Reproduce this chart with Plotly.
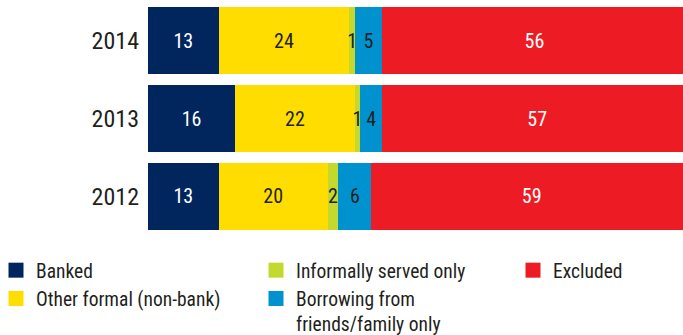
import plotly.graph_objects as go

years = ["2014", "2013", "2012"]
categories = ["Banked", "Other formal (non-bank)", "Informally served only",
              "Borrowing from<br>friends/family only", "Excluded"]
banked = [13, 16, 13]
other_formal = [24, 22, 20]
informal = [1, 1, 2]
friends_family = [5, 4, 6]
excluded = [56, 57, 59]

series = [banked, other_formal, informal, friends_family, excluded]
colors = ["#00265D", "#FFDD00", "#C4D92E", "#0092CF", "#ED1C24"]
text_colors = ["#FFFFFF", "#231F20", "#231F20", "#231F20", "#FFFFFF"]
legend_ids = ["legend", "legend", "legend2", "legend2", "legend3"]

FONT = "Liberation Sans Narrow, Arial Narrow, Roboto Condensed, sans-serif"

fig = go.Figure()
for name, vals, col, tcol in zip(categories, series, colors, text_colors):
    fig.add_trace(go.Bar(
        y=years, x=vals, name=name, orientation="h",
        marker=dict(color=col, line=dict(width=0)),
        text=vals, texttemplate="%{x}", textposition="inside",
        insidetextanchor="middle",
        textfont=dict(color=tcol, size=20, family=FONT),
        showlegend=False, hoverinfo="skip",
    ))

# legend entries as square markers, split across three columns
for name, col, lg in zip(categories, colors, legend_ids):
    fig.add_trace(go.Scatter(
        x=[None], y=[None], mode="markers", name=name,
        marker=dict(symbol="square", size=15, color=col),
        legend=lg, showlegend=True,
    ))

legend_style = dict(
    orientation="v", xanchor="left", yanchor="top", yref="container",
    traceorder="normal",
    font=dict(size=19.5, family=FONT, color="#231F20"),
    bgcolor="rgba(0,0,0,0)", borderwidth=0, tracegroupgap=0,
    valign="top", itemclick=False, itemdoubleclick=False,
)

fig.update_layout(
    barmode="stack", bargap=0.14,
    width=683, height=335,
    margin=dict(l=148, r=0, t=2, b=100, autoexpand=False),
    paper_bgcolor="white", plot_bgcolor="white",
    font=dict(family=FONT, color="#231F20"),
    uniformtext=dict(minsize=20, mode="show"),
    xaxis=dict(range=[0, 98.3], visible=False, fixedrange=True),
    yaxis=dict(type="category", categoryorder="array", categoryarray=years,
               autorange="reversed", showgrid=False, zeroline=False,
               showline=False, ticks="", ticklabelstandoff=8,
               tickfont=dict(size=24, family=FONT, color="#231F20")),
    legend=dict(x=(0 - 148) / 535, y=1 - 251 / 335, indentation=-4,
                **legend_style),
    legend2=dict(x=(256 - 148) / 535, y=1 - 251 / 335, **legend_style),
    legend3=dict(x=(513 - 148) / 535, y=1 - 251 / 335, **legend_style),
)

fig.write_html("out.html")
